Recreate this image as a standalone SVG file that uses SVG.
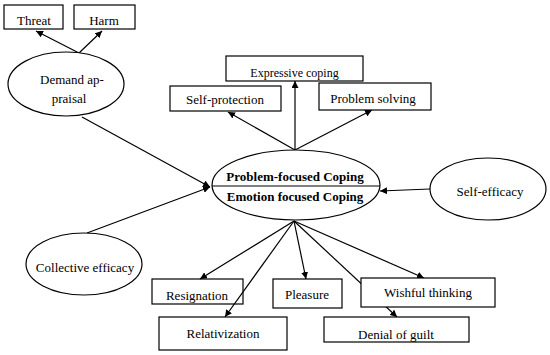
<svg xmlns="http://www.w3.org/2000/svg" width="550" height="355" viewBox="0 0 550 355">
<defs>
<marker id="ah" viewBox="0 0 10 10" refX="10" refY="5" markerWidth="7" markerHeight="7" orient="auto" markerUnits="userSpaceOnUse">
<path d="M0,0 L10,5 L0,10 z" fill="#000"/>
</marker>
<style>
.box{fill:#fff;stroke:#000;stroke-width:1.2}
.nofill{fill:none}
.ell{fill:#fff;stroke:#000;stroke-width:1.2}
text{font-family:'Liberation Serif','Times New Roman',serif;font-size:13px;fill:#000;text-anchor:middle}
.b{font-weight:bold}
.c{stroke:#000;stroke-width:1.2;fill:none}
</style>
</defs>
<rect width="550" height="355" fill="#fff"/>
<g id="connectors">
<line class="c" x1="79" y1="53" x2="36" y2="31" marker-end="url(#ah)"/>
<line class="c" x1="79" y1="53" x2="102" y2="31" marker-end="url(#ah)"/>
<line class="c" x1="82" y1="117" x2="210" y2="187" marker-end="url(#ah)"/>
<line class="c" x1="87" y1="233" x2="210" y2="187" marker-end="url(#ah)"/>
<line class="c" x1="430" y1="189" x2="380" y2="191" stroke="#555" stroke-width="0.9" marker-end="url(#ah)"/>
<line class="c" x1="295" y1="150" x2="228" y2="112" marker-end="url(#ah)"/>
<line class="c" x1="295" y1="150" x2="295" y2="81" marker-end="url(#ah)"/>
<line class="c" x1="295" y1="150" x2="372" y2="110" marker-end="url(#ah)"/>
<line class="c" x1="294" y1="221" x2="200" y2="279" marker-end="url(#ah)"/>
<line class="c" x1="294" y1="221" x2="225" y2="317" marker-end="url(#ah)"/>
<line class="c" x1="294" y1="221" x2="306" y2="279" marker-end="url(#ah)"/>
<line class="c" x1="294" y1="221" x2="424" y2="278" marker-end="url(#ah)"/>
<line class="c" x1="294" y1="221" x2="397" y2="317" marker-end="url(#ah)"/>
</g>
<g id="threat"><rect class="box" x="4" y="5" width="59" height="24"/><text x="34" y="25">Threat</text></g>
<g id="harm"><rect class="box" x="74" y="5" width="61" height="24"/><text x="104" y="25">Harm</text></g>
<g id="demand"><ellipse class="ell" cx="66" cy="84" rx="58" ry="32"/><text x="72" y="84">Demand ap-</text><text x="69" y="103">praisal</text></g>
<g id="expressive"><rect class="box" x="226" y="56" width="137" height="25"/><text x="294.5" y="77" style="font-size:12px">Expressive coping</text></g>
<g id="selfprotection"><rect class="box" x="170" y="86" width="111" height="25"/><text x="225" y="104">Self-protection</text></g>
<g id="problemsolving"><rect class="box" x="319" y="83" width="112" height="27"/><text x="373" y="103">Problem solving</text></g>
<g id="coping"><ellipse class="ell" cx="296" cy="185" rx="84" ry="35"/><line x1="212" y1="186" x2="380" y2="186" stroke="#000" stroke-width="1.2"/><text class="b" x="295" y="181">Problem-focused Coping</text><text class="b" x="295" y="201">Emotion focused Coping</text></g>
<g id="selfefficacy"><ellipse class="ell" cx="488" cy="189" rx="58" ry="31"/><text x="490" y="196">Self-efficacy</text></g>
<g id="collective"><ellipse class="ell" cx="84" cy="264" rx="58" ry="31"/><text x="85" y="272">Collective efficacy</text></g>
<g id="resignation"><rect class="box nofill" x="152" y="279" width="91" height="25"/><text x="197" y="300">Resignation</text></g>
<g id="pleasure"><rect class="box" x="273" y="279" width="69" height="29"/><text x="307" y="299">Pleasure</text></g>
<g id="wishful"><rect class="box" x="361" y="278" width="134" height="29"/><text x="428" y="297">Wishful thinking</text></g>
<g id="relativization"><rect class="box" x="159" y="317" width="128" height="33"/><text x="223" y="338">Relativization</text></g>
<g id="denial"><rect class="box" x="324" y="317" width="145" height="25"/><text x="396" y="339">Denial of guilt</text></g>
</svg>
